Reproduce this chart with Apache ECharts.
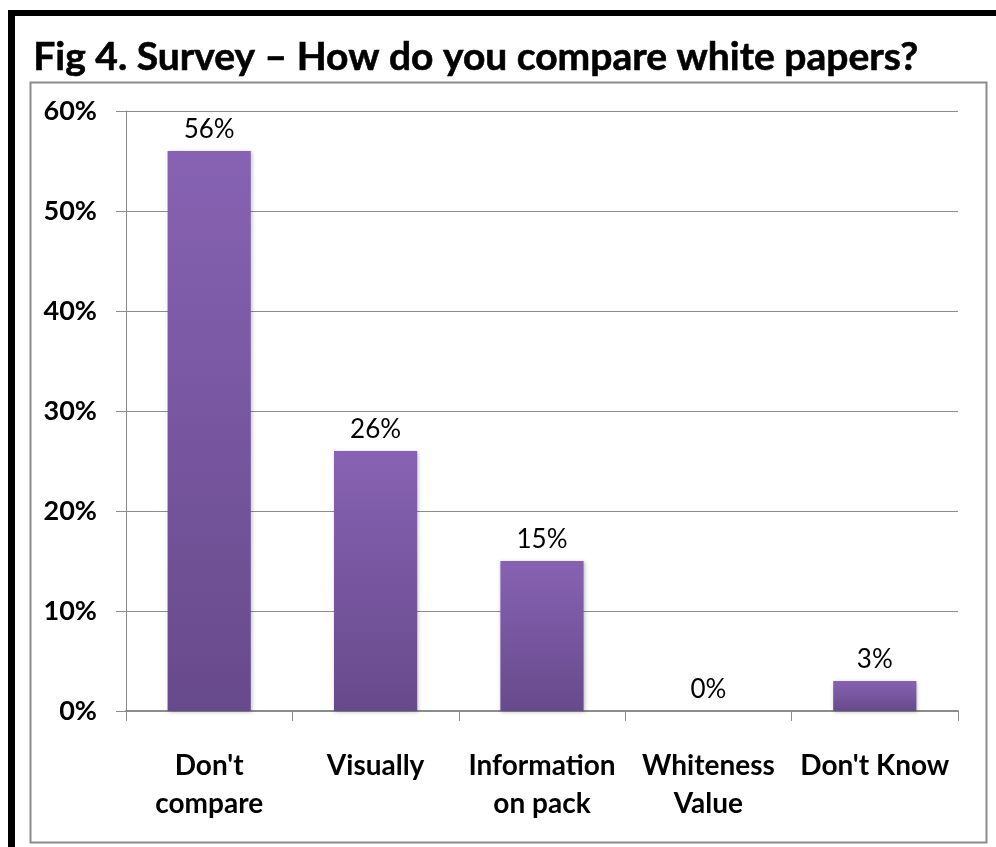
<!DOCTYPE html>
<html>
<head>
<meta charset="utf-8">
<script src="https://cdn.jsdelivr.net/npm/echarts@6/dist/echarts.min.js"></script>
<style>
html,body{margin:0;padding:0;background:#fff;}
#chart{width:996px;height:847px;}
</style>
</head>
<body>
<div id="chart"></div>
<script>
const titleText = 'Fig 4. Survey \u2013 How do you compare white papers?';
const categories = ["Don't\ncompare", 'Visually', 'Information\non pack', 'Whiteness\nValue', "Don't Know"];
const values = [0.56, 0.26, 0.15, 0, 0.03];
const yTicks = [0, 0.1, 0.2, 0.3, 0.4, 0.5, 0.6];

const FONT = 'Lato, "Noto Sans", sans-serif';
const chart = echarts.init(document.getElementById('chart'), null, {renderer: 'canvas'});
chart.setOption({
  animation: false,
  backgroundColor: '#fff',
  graphic: [
    {type: 'rect', shape: {x: 8, y: 10, width: 996, height: 6}, style: {fill: '#000'}},
    {type: 'rect', shape: {x: 8, y: 10, width: 7, height: 840}, style: {fill: '#000'}},
    {type: 'rect', shape: {x: 30.5, y: 82.5, width: 956, height: 760}, style: {fill: 'none', stroke: '#8c8c8c', lineWidth: 2}},
    {type: 'text', left: 33, top: 38, style: {text: titleText, font: 'bold 39px ' + FONT, fill: '#000', stroke: '#000', lineWidth: 0.6}}
  ],
  grid: {left: 126, right: 38, top: 111, bottom: 136},
  xAxis: {
    type: 'category',
    data: categories,
    axisLine: {lineStyle: {color: '#8c8c8c', width: 2}},
    axisTick: {show: true, length: 10, lineStyle: {color: '#8c8c8c', width: 1}},
    axisLabel: {interval: 0, margin: 36, fontFamily: FONT, fontWeight: 'bold', fontSize: 28, color: '#000', lineHeight: 38}
  },
  yAxis: {
    type: 'value',
    min: 0, max: 0.6, interval: 0.1,
    axisLine: {show: true, lineStyle: {color: '#8c8c8c', width: 1}},
    axisTick: {show: true, length: 10, lineStyle: {color: '#8c8c8c'}},
    splitLine: {lineStyle: {color: '#8c8c8c', width: 1}},
    axisLabel: {
      margin: 29, fontFamily: FONT, fontWeight: 'bold', fontSize: 27, color: '#000',
      formatter: v => yTicks.some(t => Math.abs(t - v) < 1e-9) ? Math.round(v * 100) + '%' : ''
    }
  },
  series: [{
    type: 'bar',
    data: values,
    barWidth: '50%',
    itemStyle: {
      color: new echarts.graphic.LinearGradient(0, 0, 0, 1, [
        {offset: 0, color: '#8762b3'},
        {offset: 1, color: '#674a8b'}
      ]),
      shadowColor: 'rgba(0,0,0,0.25)',
      shadowBlur: 4,
      shadowOffsetX: 1,
      shadowOffsetY: 1
    },
    label: {
      show: true, position: 'top', distance: 8,
      fontFamily: FONT, fontSize: 26, color: '#000',
      formatter: p => Math.round(p.value * 100) + '%'
    }
  }]
});
</script>
</body>
</html>
